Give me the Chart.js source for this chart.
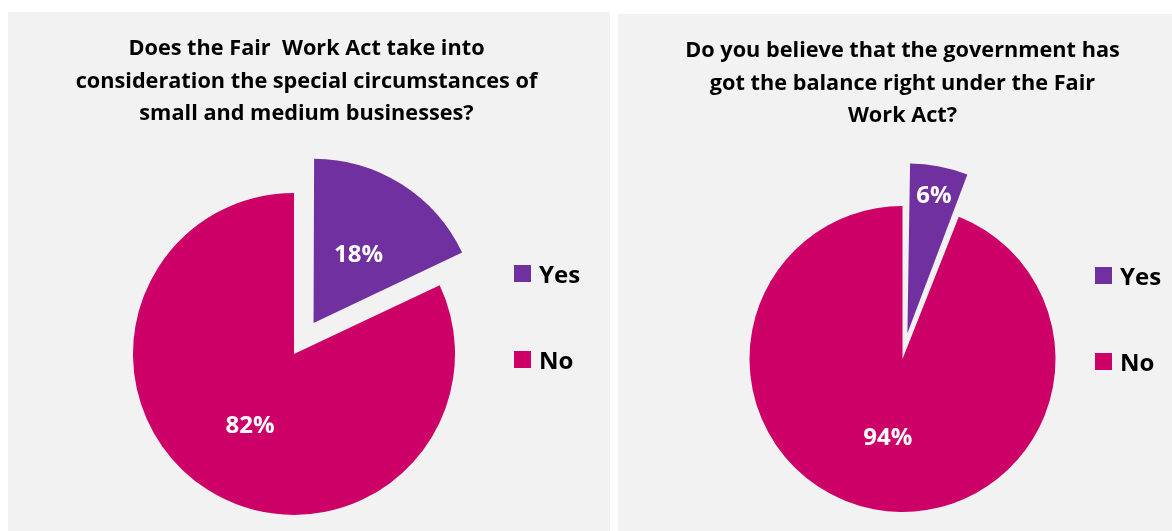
<!DOCTYPE html>
<html>
<head>
<meta charset="utf-8">
<script src="https://cdn.jsdelivr.net/npm/chart.js@4.4.1/dist/chart.umd.min.js"></script>
<style>
  html, body { margin: 0; padding: 0; background: #ffffff; width: 1172px; height: 531px; overflow: hidden; }
  .panel { position: absolute; background: #f2f2f2; }
  .panel canvas { position: absolute; left: 0; top: 0; }
</style>
</head>
<body>
<div class="panel" style="left:8px; top:12px; width:602px; height:519px;">
  <canvas id="smeChart" width="602" height="519"></canvas>
</div>
<div class="panel" style="left:618px; top:14px; width:554px; height:517px;">
  <canvas id="balanceChart" width="554" height="517"></canvas>
</div>
<script>
// Survey answers (percent of respondents)
const categories = ['Yes', 'No'];
const smeValues = [18, 82];
const balanceValues = [6, 94];

const smeTitle = [
  'Does the Fair  Work Act take into',
  'consideration the special circumstances of',
  'small and medium businesses?'
];
const balanceTitle = [
  'Do you believe that the government has',
  'got the balance right under the Fair',
  'Work Act?'
];

const sliceColors = ['#7030a0', '#cc0066'];
const FONT = '"Open Sans", Lato, "DejaVu Sans", sans-serif';

// Percentage labels placed along each slice's mid angle, following the arc's own explosion
const sliceLabels = {
  id: 'sliceLabels',
  afterDatasetsDraw(chart, args, opts) {
    const ctx = chart.ctx;
    const meta = chart.getDatasetMeta(0);
    const values = chart.data.datasets[0].data;
    ctx.save();
    ctx.font = 'bold ' + opts.size + 'px ' + FONT;
    ctx.fillStyle = opts.color;
    ctx.textAlign = 'center';
    ctx.textBaseline = 'middle';
    meta.data.forEach((arc, i) => {
      const p = arc.getProps(['x', 'y', 'startAngle', 'endAngle', 'outerRadius', 'circumference'], true);
      const mid = (p.startAngle + p.endAngle) / 2;
      // same displacement rule ArcElement uses for "offset"
      const off = (arc.options.offset || 0) / 4;
      const fix = 1 - Math.sin(Math.min(Math.PI, p.circumference || 0));
      const dist = off + off * fix + opts.radial[i] * p.outerRadius;
      ctx.fillText(values[i] + '%', p.x + Math.cos(mid) * dist, p.y + Math.sin(mid) * dist + opts.dy);
    });
    ctx.restore();
  }
};

// Square-swatch legend to the right of the pie
const sideLegend = {
  id: 'sideLegend',
  afterDraw(chart, args, opts) {
    const ctx = chart.ctx;
    const colors = chart.data.datasets[0].backgroundColor;
    ctx.save();
    ctx.font = 'bold ' + opts.size + 'px ' + FONT;
    ctx.textAlign = 'left';
    ctx.textBaseline = 'middle';
    chart.data.labels.forEach((label, i) => {
      const cy = opts.top + i * opts.step;
      ctx.fillStyle = colors[i];
      ctx.fillRect(opts.left, cy - opts.box / 2, opts.box, opts.box);
      ctx.fillStyle = opts.color;
      ctx.fillText(label, opts.left + opts.box + opts.gap, cy + opts.dy);
    });
    ctx.restore();
  }
};

function makePie(canvasId, values, titleLines, cfg) {
  return new Chart(document.getElementById(canvasId), {
    type: 'pie',
    data: {
      labels: categories,
      datasets: [{
        data: values,
        backgroundColor: sliceColors,
        borderWidth: 0,
        offset: cfg.offset
      }]
    },
    options: {
      responsive: false,
      animation: false,
      radius: cfg.radius,
      layout: { padding: cfg.padding },
      plugins: {
        tooltip: { enabled: false },
        legend: { display: false },
        title: {
          display: true,
          text: titleLines,
          color: '#000000',
          font: { family: FONT, size: 21.7, weight: 'bold', lineHeight: 1.4977 },
          padding: { top: 21, bottom: 68.6 }
        },
        // blank strip on the right that nudges the plot area left of the title centre
        subtitle: {
          display: cfg.rightGap > 0,
          position: 'right',
          text: '',
          font: { size: 1, lineHeight: 1 },
          padding: { top: Math.max(cfg.rightGap - 1, 0), bottom: 0 }
        },
        sliceLabels: { size: 24, color: '#ffffff', radial: cfg.labelRadial, dy: 2.5 },
        sideLegend: Object.assign({ size: 24, color: '#000000', box: 17, gap: 8, step: 86, dy: 2.5 }, cfg.legend)
      }
    },
    plugins: [sliceLabels, sideLegend]
  });
}

makePie('smeChart', smeValues, smeTitle, {
  radius: 161,
  offset: [146, 0],
  padding: { left: 0, right: 5, top: 0, bottom: 22.25 },
  rightGap: 25,
  legend: { left: 506, top: 261.5 },
  labelRadial: [0.5, 0.51]
});

makePie('balanceChart', balanceValues, balanceTitle, {
  radius: 153,
  offset: [105, 0],
  padding: { left: 15, right: 0, top: 0, bottom: 14.25 },
  rightGap: 0,
  legend: { left: 477, top: 261.5 },
  labelRadial: [0.82, 0.51]
});
</script>
</body>
</html>
